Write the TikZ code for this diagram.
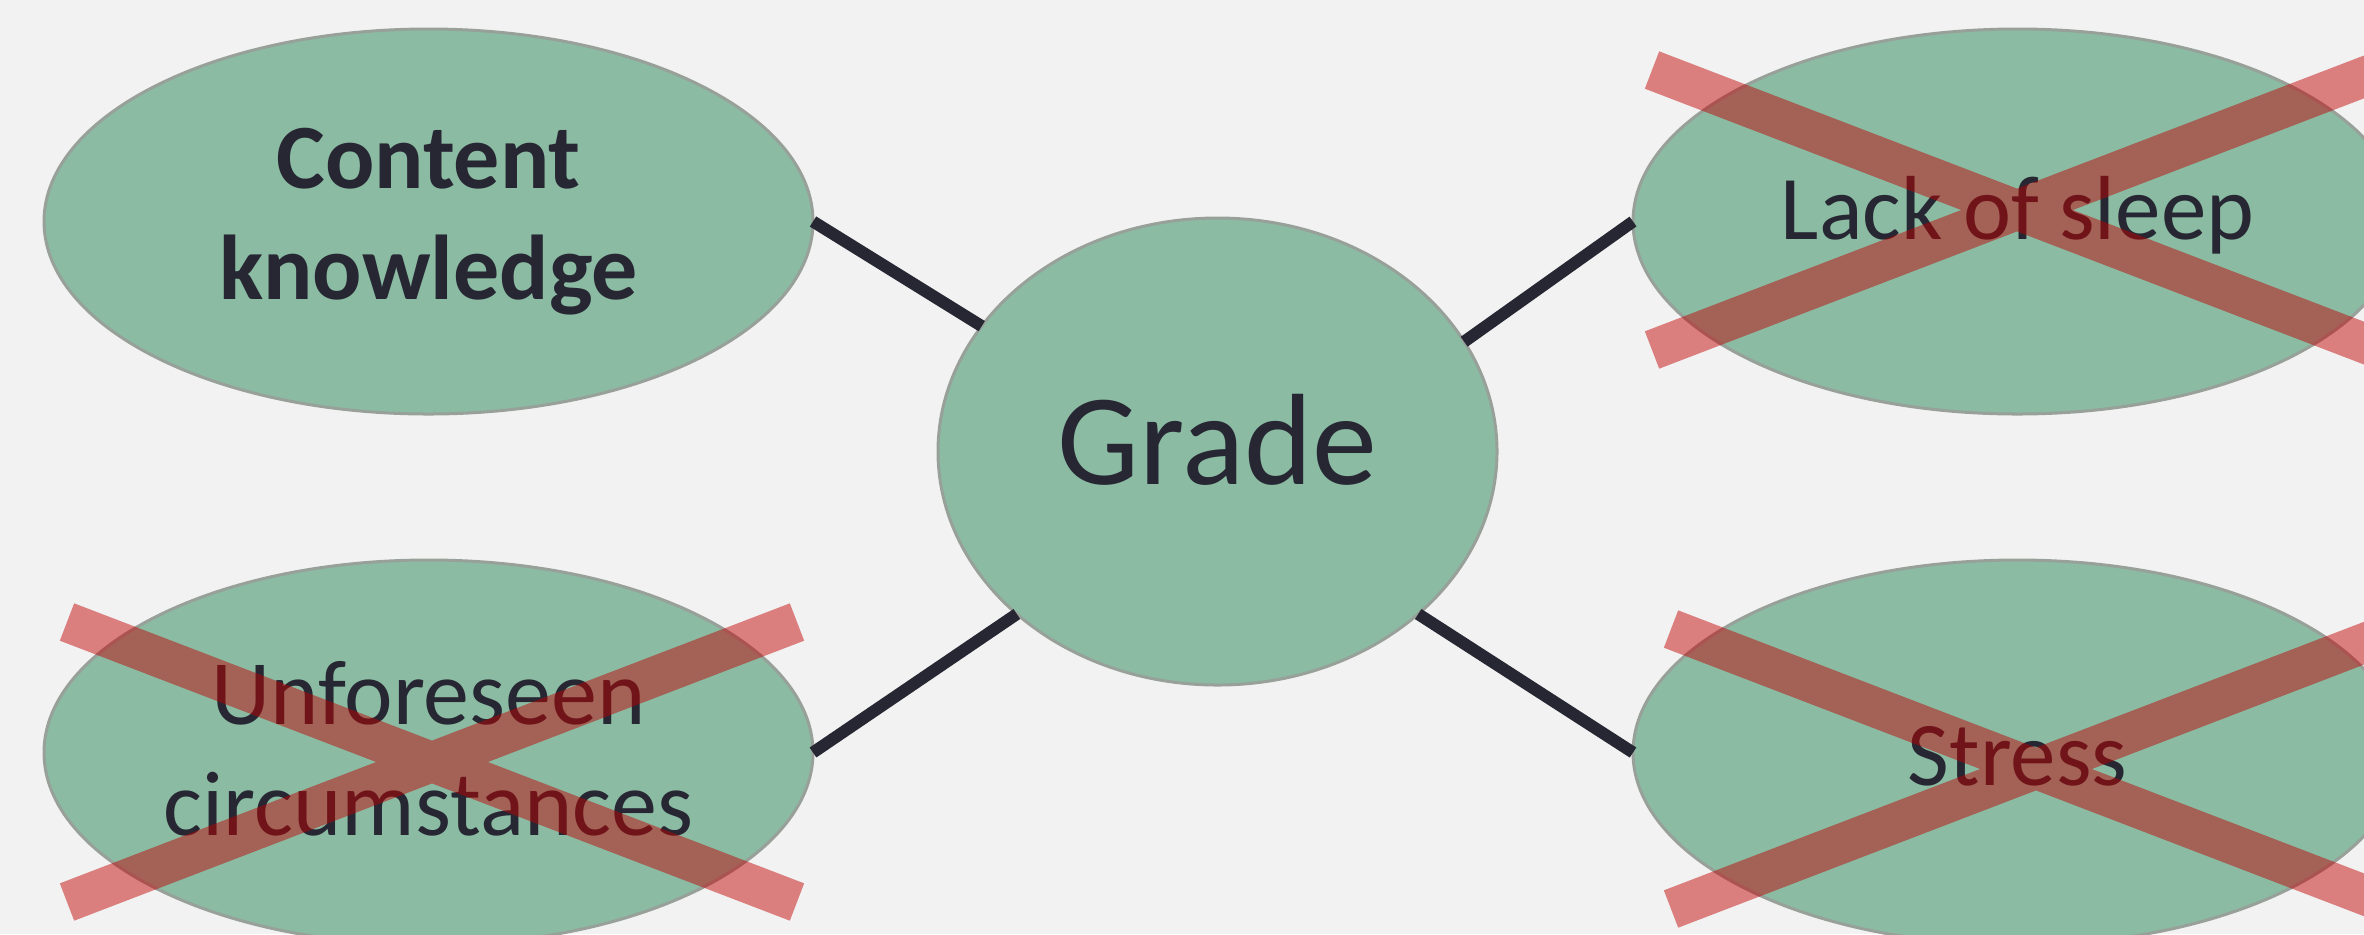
\documentclass[tikz,border=0pt]{standalone}
\usepackage{fontspec}
\setmainfont{Carlito}
\usetikzlibrary{shapes.geometric}
\definecolor{bgc}{RGB}{242,242,242}
\definecolor{ellfill}{RGB}{139,187,163}
\definecolor{ellborder}{RGB}{152,160,154}
\definecolor{inkc}{RGB}{39,39,51}
\definecolor{crossred}{RGB}{192,0,0}
\tikzset{
  bubble/.style={ellipse, fill=ellfill, draw=ellborder, line width=1.5pt,
    inner sep=0pt, outer sep=0pt, text=inkc, align=center},
  outerbubble/.style={bubble, minimum width=384.5pt, minimum height=192.5pt},
  linkline/.style={draw=inkc, line width=6pt, line cap=butt},
  crossline/.style={draw=crossred, draw opacity=0.48, line width=20pt, line cap=butt},
  pics/xmark/.style={code={\draw[crossline] (-365,-140) -- (365,140) (-365,140) -- (365,-140);}}
}
\begin{document}
\begin{tikzpicture}[x=0.5pt,y=-0.5pt]
\fill[bgc] (0,0) rectangle (2364,934);
\clip (0,0) rectangle (2364,934);
\useasboundingbox (0,0) rectangle (2364,934);

\node[outerbubble, font=\fontsize{46pt}{55.5pt}\selectfont\bfseries] (ck) at (428.5,221.5) {Content\\knowledge};
\node[bubble, minimum width=279.5pt, minimum height=233.5pt, text height=32.5pt, text depth=0pt,
  font=\fontsize{65pt}{78pt}\selectfont] (g) at (1217.5,451.5) {Grade};
\node[outerbubble, text height=17.5pt, text depth=0pt, font=\fontsize{45.5pt}{55pt}\selectfont] (los) at (2017.5,221.5) {Lack of sleep};
\node[outerbubble, font=\fontsize{46pt}{55.5pt}\selectfont] (uc) at (428.5,752.5) {\raisebox{4pt}{Unforeseen}\\\raisebox{4pt}{circumstances}};
\node[outerbubble, text height=32.5pt, text depth=0pt, font=\fontsize{45.5pt}{55pt}\selectfont] (st) at (2017.5,752.5) {Stress};

\draw[linkline] (ck.east) -- (g.152.4);
\draw[linkline] (g.24.4) -- (los.west);
\draw[linkline] (g.219.8) -- (uc.east);
\draw[linkline] (g.-39.5) -- (st.west);

\pic at (2017,210) {xmark};
\pic at (432,762) {xmark};
\pic at (2036,769) {xmark};
\end{tikzpicture}
\end{document}
